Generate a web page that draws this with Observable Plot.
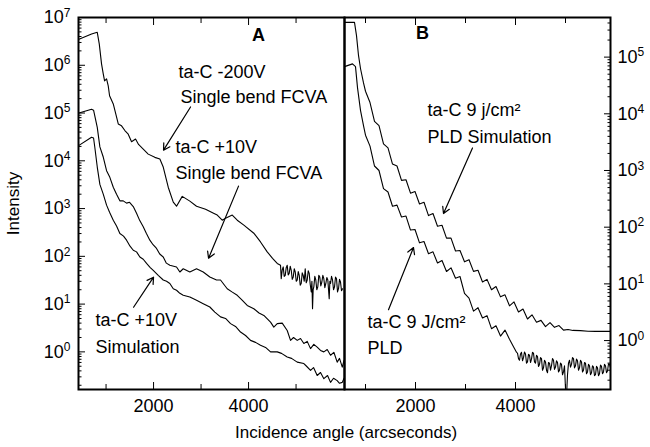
<!DOCTYPE html>
<html><head><meta charset="utf-8">
<script src="https://cdn.jsdelivr.net/npm/d3@7"></script>
<script src="https://cdn.jsdelivr.net/npm/@observablehq/plot@0.6"></script>
<style>
body{margin:0;background:#fff;}
#wrap{position:relative;width:650px;height:447px;overflow:hidden;font-family:"Liberation Sans",Arial,sans-serif;background:#fff;}
#wrap svg{position:absolute;top:0;max-width:none;background:transparent;}
.lab{position:absolute;font-size:17px;color:#000;white-space:nowrap;line-height:1;}
</style></head><body>
<div id="wrap"></div>
<script>
// ---------- tick values ----------
const xMajorTicks = [2000, 4000];
const xMinorTicks = [1000, 3000, 5000];
const yLeftDecades = [1, 10, 100, 1e3, 1e4, 1e5, 1e6, 1e7];
const yRightDecades = [1, 10, 100, 1e3, 1e4, 1e5];
const xLeftDomain = [420, 6020];
const xRightDomain = [580, 5900];
const yLeftDomain = [0.163, 1e7];
const yRightDomain = [0.137, 5e5];

// ---------- panel A series: [angle (arcsec), intensity] ----------
const fcva200V = [[430,3.5e6],[695,4.5e6],[815,4.9e6],[857,2.8e6],[905,1.07e6],[941,6.6e5],[969,4.7e5],[1011,5.2e5],[1046,3.7e5],[1074,2.3e5],[1152,1.55e5],[1206,9.5e4],[1257,5.9e4],[1326,5.4e4],[1396,4.3e4],[1467,3.6e4],[1537,2.5e4],[1621,2.85e4],[1684,2.2e4],[1783,1.76e4],[1888,1.38e4],[2027,1.18e4],[2133,1.09e4],[2204,7.4e3],[2309,2.8e3],[2415,1.36e3],[2484,1.12e3],[2604,1.8e3],[2764,1.43e3],[2905,1.12e3],[3095,970],[3263,800],[3341,730],[3446,570],[3516,630],[3657,730],[3762,570],[3901,450],[4111,305],[4252,200],[4393,124],[4505,91],[4604,71],
  [4673,65],[4688,34],[4709,52],[4730,60],[4751,38],[4772,40],[4793,58],[4814,65],[4835,41],[4856,44],[4877,62],[4899,51],[4920,33],[4941,37],[4962,55],[4983,47],[5004,30],[5025,32],[5046,48],[5067,40],[5088,25],[5109,27],[5130,45],[5151,40],[5172,30],[5193,55],[5214,28],[5235,32],[5256,50],[5277,44],[5298,26],[5320,18],[5334,30],[5347,8],[5360,20],[5374,23],[5395,38],[5416,32],[5437,20],[5458,23],[5479,40],[5500,37],[5521,24],[5543,29],[5564,40],[5585,34],[5606,22],[5627,27],[5648,36],[5669,32],[5684,20],[5698,13],[5712,30],[5726,27],[5747,38],[5768,32],[5789,20],[5810,23],[5831,37],[5852,34],[5873,18],[5894,21],[5915,33],[5936,29],[5957,19],[5978,21]];
const fcva10V = [[430,1.0e5],[695,1.2e5],[737,1.15e5],[815,5.0e4],[870,1.95e4],[941,1.2e4],[1011,6.2e3],[1080,4.5e3],[1152,2.8e3],[1221,2.0e3],[1291,1.45e3],[1362,1.45e3],[1432,1.3e3],[1495,1.35e3],[1573,1.1e3],[1642,800],[1710,560],[1783,415],[1850,300],[1922,218],[1990,175],[2063,146],[2130,112],[2204,97],[2270,72],[2343,65],[2484,60],[2554,47],[2625,55],[2764,47],[2905,55],[3046,47],[3185,37],[3326,32],[3410,32],[3551,21],[3650,18],[3762,15.3],[3870,12],[3972,9.4],[4111,8.0],[4220,6.5],[4322,5.8],[4463,4.2],[4532,3.3],[4604,3.9],[4709,4.0],[4814,2.8],[4884,1.74],[4947,2.0],[5025,1.74],[5094,1.9],[5164,1.5],[5235,1.66],[5305,1.17],[5374,1.44],[5445,1.26],[5515,1.07],[5585,1.0],[5656,1.12],[5726,0.85],[5796,0.98],[5866,0.61],[5915,0.73],[5973,0.48],[6010,0.66]];
const sim10V = [[430,2.1e4],[695,3.1e4],[737,3.0e4],[764,1.9e4],[815,7.4e3],[870,3.2e3],[941,2.0e3],[1011,1.18e3],[1074,840],[1152,570],[1221,430],[1291,300],[1368,265],[1432,218],[1505,163],[1573,134],[1642,124],[1712,97],[1783,87],[1853,71],[1926,59],[1994,51],[2099,40],[2204,32],[2274,30],[2343,27],[2415,21],[2484,19.5],[2554,16.8],[2625,15.3],[2764,14.1],[2905,12],[3046,10.2],[3185,8.7],[3290,6.8],[3410,5.4],[3516,5.0],[3621,3.9],[3726,3.4],[3831,2.6],[3937,2.2],[4042,1.74],[4147,1.58],[4252,1.37],[4358,1.24],[4463,1.0],[4604,1.0],[4694,0.93],[4814,0.78],[4905,0.73],[5025,0.61],[5164,0.57],[5221,0.50],[5305,0.41],[5368,0.47],[5445,0.32],[5515,0.37],[5585,0.275],[5663,0.32],[5726,0.23],[5789,0.28],[5866,0.25],[5915,0.22],[5973,0.23],[6010,0.28]];

// ---------- panel B series ----------
const pldSim = [[580,4.1e5],[780,4.1e5],[820,2.4e5],[860,1.07e5],[900,6.3e4],[960,3.5e4],[1000,2.5e4],[1090,1.58e4],[1180,7350],[1270,6170],[1360,2950],[1450,2510],[1540,1300],[1630,1200],[1720,670],[1810,687],[1900,398],[1990,427],[2080,257],[2170,275],[2260,160],[2350,174],[2440,104],[2530,108],[2620,64],[2710,64.3],[2800,38],[2890,38.9],[2980,24.5],[3070,26.7],[3160,16.6],[3250,17.4],[3340,10.8],[3430,12.0],[3520,7.9],[3610,9.0],[3700,5.9],[3790,6.4],[3880,4.1],[3970,4.8],[4060,3.2],[4150,3.6],[4240,2.4],[4330,2.85],[4420,2.1],[4510,2.27],[4600,1.76],[4690,2.07],[4780,1.71],[4870,1.84],[4960,1.53],[5050,1.57],[5150,1.51],[5300,1.5],[5450,1.46],[5600,1.45],[5750,1.45],[5900,1.45]];
const pldData = [[580,6.8e4],[740,7.6e4],[800,6.8e4],[840,2.9e4],[900,1.15e4],[960,6.2e3],[1000,4200],[1090,2690],[1180,1200],[1270,1000],[1360,479],[1450,417],[1540,234],[1630,245],[1720,151],[1810,157],[1900,89],[1990,91],[2080,53],[2170,56],[2260,34],[2350,36.7],[2440,23.3],[2530,25.9],[2620,16.5],[2710,19.2],[2800,12.6],[2890,13.5],[2980,6.8],[3070,5.6],[3160,3.3],[3250,3.8],[3340,2.5],[3430,2.75],[3520,1.62],[3610,1.82],[3700,1.2],[3790,1.53],[3880,1.05],[3960,0.78],[4020,0.62],
  [4040,0.60],[4060,0.48],[4080,0.45],[4100,0.58],[4120,0.62],[4140,0.44],[4160,0.50],[4180,0.63],[4200,0.58],[4220,0.40],[4240,0.42],[4260,0.57],[4280,0.55],[4300,0.41],[4320,0.47],[4340,0.62],[4360,0.60],[4380,0.42],[4400,0.40],[4420,0.55],[4440,0.52],[4460,0.35],[4480,0.38],[4500,0.50],[4520,0.48],[4540,0.30],[4560,0.33],[4580,0.45],[4600,0.42],[4620,0.30],[4640,0.27],[4660,0.41],[4680,0.40],[4700,0.30],[4720,0.36],[4740,0.48],[4760,0.45],[4780,0.31],[4800,0.34],[4820,0.44],[4840,0.41],[4860,0.28],[4880,0.30],[4900,0.40],[4920,0.38],[4940,0.25],[4960,0.28],[4980,0.36],[5000,0.14],[5020,0.10],[5040,0.25],[5060,0.40],[5080,0.45],[5100,0.34],[5120,0.38],[5140,0.50],[5160,0.48],[5180,0.33],[5200,0.36],[5220,0.47],[5240,0.44],[5260,0.30],[5280,0.33],[5300,0.45],[5320,0.42],[5340,0.28],[5360,0.30],[5380,0.41],[5400,0.40],[5420,0.26],[5440,0.28],[5460,0.38],[5480,0.36],[5500,0.25],[5520,0.27],[5540,0.36],[5560,0.34],[5580,0.24],[5600,0.25],[5620,0.35],[5640,0.33],[5660,0.24],[5680,0.26],[5700,0.37],[5720,0.35],[5740,0.26],[5760,0.28],[5780,0.38],[5800,0.36],[5820,0.27],[5840,0.29],[5860,0.39],[5880,0.38],[5900,0.33]];

// ---------- annotations ----------
const leftNotes = [
  {x: 2526, y: 7.2e5, text: "ta-C -200V"},
  {x: 2568, y: 2.16e5, text: "Single bend FCVA"},
  {x: 2463, y: 1.94e4, text: "ta-C +10V"},
  {x: 2463, y: 5.5e3, text: "Single bend FCVA"},
  {x: 779, y: 4.57, text: "ta-C +10V"},
  {x: 779, y: 1.24, text: "Simulation"}
];
const rightNotes = [
  {x: 2240, y: 1.14e4, text: "ta-C 9 j/cm²"},
  {x: 2240, y: 3.8e3, text: "PLD Simulation"},
  {x: 1040, y: 2.08, text: "ta-C 9 J/cm²"},
  {x: 1040, y: 0.72, text: "PLD"}
];
const leftTag = [{x: 4210, y: 4.3e6, text: "A"}];
const rightTag = [{x: 2140, y: 2.6e5, text: "B"}];
const leftArrows = [
  {x1: 2779, y1: 1.34e5, x2: 2210, y2: 1.67e4},
  {x1: 3789, y1: 2950, x2: 3158, y2: 91},
  {x1: 1579, y1: 8.6, x2: 2000, y2: 36.6}
];
const rightArrows = [
  {x1: 3140, y1: 2.5e3, x2: 2560, y2: 174},
  {x1: 1460, y1: 3.5, x2: 1960, y2: 43.7}
];

function minorTicks([lo, hi]) {
  const t = [];
  for (let e = -2; e <= 8; e++) for (let m = 2; m <= 9; m++) {
    const v = m * Math.pow(10, e);
    if (v >= lo && v <= hi) t.push(v);
  }
  return t;
}
const blank = () => "";
const FONT = "Liberation Sans, Arial, sans-serif";

function panel(o) {
  const side = o.yAnchor;
  const s = side === "left" ? 1 : -1;
  const marks = [
    Plot.axisY(minorTicks(o.yDomain), {anchor: side, tickSize: 3.5, dx: s*3.5, tickFormat: blank, label: null}),
    Plot.axisY(o.yDecades, {anchor: side, tickSize: 7, dx: s*7, tickFormat: blank, label: null}),
    Plot.axisY(o.yDecades, {anchor: side, tickSize: 0, tickPadding: o.yPad, fontSize: 18,
      tickFormat: d => "10^" + Math.round(Math.log10(d)), label: null}),
    Plot.axisX(xMajorTicks, {anchor: "bottom", tickSize: 7, dy: -7, tickFormat: blank, label: null}),
    Plot.axisX(xMinorTicks, {anchor: "bottom", tickSize: 5, dy: -5, tickFormat: blank, label: null}),
    Plot.axisX(xMajorTicks, {anchor: "top", tickSize: 7, dy: 7, tickFormat: blank, label: null}),
    Plot.axisX(xMinorTicks, {anchor: "top", tickSize: 5, dy: 5, tickFormat: blank, label: null}),
    Plot.axisX(xMajorTicks, {anchor: "bottom", tickSize: 0, tickPadding: 10, fontSize: 18,
      tickFormat: d => String(d), label: null}),
    ...o.series.map(sr => Plot.line(sr, {x: d => d[0], y: d => d[1], stroke: "black", strokeWidth: 1.1, clip: true})),
    Plot.text(o.notes, {x: "x", y: "y", text: "text", textAnchor: "start", fontSize: 18, fill: "black"}),
    Plot.text(o.tag, {x: "x", y: "y", text: "text", textAnchor: "middle", fontSize: 18, fontWeight: "bold", fill: "black"}),
    Plot.arrow(o.arrows, {x1: "x1", y1: "y1", x2: "x2", y2: "y2", stroke: "black", strokeWidth: 1.2, headLength: 9}),
    Plot.frame({stroke: "black", strokeWidth: 2})
  ];
  const svg = Plot.plot({
    width: o.width, height: 447,
    marginLeft: o.marginLeft, marginRight: o.marginRight, marginTop: 17, marginBottom: 58,
    x: {type: "linear", domain: o.xDomain},
    y: {type: "log", domain: o.yDomain},
    style: {fontFamily: FONT, fontSize: "18px", background: "transparent", color: "black", overflow: "visible"},
    marks
  });
  // render exponents as superscripts
  svg.querySelectorAll("text").forEach(t => {
    const m = /^10\^(-?\d+)$/.exec(t.textContent);
    if (!m) return;
    t.textContent = "";
    const base = document.createElementNS("http://www.w3.org/2000/svg", "tspan");
    base.textContent = "10";
    const sup = document.createElementNS("http://www.w3.org/2000/svg", "tspan");
    sup.textContent = m[1];
    sup.setAttribute("dy", "-0.55em");
    sup.setAttribute("font-size", "12px");
    t.appendChild(base); t.appendChild(sup);
  });
  svg.style.left = o.left + "px";
  return svg;
}

const wrap = document.getElementById("wrap");
wrap.appendChild(panel({
  left: 0, width: 346, marginLeft: 78, marginRight: 2, yAnchor: "left", yPad: 8,
  xDomain: xLeftDomain, yDomain: yLeftDomain, yDecades: yLeftDecades,
  series: [fcva200V, fcva10V, sim10V], notes: leftNotes, tag: leftTag, arrows: leftArrows
}));
wrap.appendChild(panel({
  left: 342, width: 308, marginLeft: 2, marginRight: 40, yAnchor: "right", yPad: 7,
  xDomain: xRightDomain, yDomain: yRightDomain, yDecades: yRightDecades,
  series: [pldSim, pldData], notes: rightNotes, tag: rightTag, arrows: rightArrows
}));

const xt = document.createElement("div");
xt.className = "lab";
xt.textContent = "Incidence angle (arcseconds)";
wrap.appendChild(xt);
xt.style.left = (346 - xt.offsetWidth / 2) + "px";
xt.style.top = "424px";

const yt = document.createElement("div");
yt.className = "lab";
yt.textContent = "Intensity";
wrap.appendChild(yt);
yt.style.left = (13 - yt.offsetWidth / 2) + "px";
yt.style.top = (203 - yt.offsetHeight / 2) + "px";
yt.style.transform = "rotate(-90deg)";
</script>
</body></html>
